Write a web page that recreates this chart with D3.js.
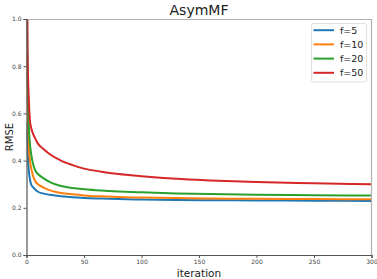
<!DOCTYPE html>
<html>
<head>
<meta charset="utf-8">
<script src="https://cdn.jsdelivr.net/npm/d3@7"></script>
<style>
  body { margin: 0; background: #fff; }
  text { font-family: "DejaVu Sans", sans-serif; }
</style>
</head>
<body>
<div id="chart"></div>
<script>
// iteration points and RMSE per latent size f
const iterations = [0, 1, 2, 3, 4, 6, 8, 10, 14, 20, 30, 40, 50, 65, 80, 100, 130, 160, 200, 250, 300];
const rmseF5  = [0.56, 0.44, 0.36, 0.32, 0.30, 0.285, 0.275, 0.268, 0.261, 0.255, 0.249, 0.2445, 0.2415, 0.239, 0.237, 0.235, 0.233, 0.232, 0.231, 0.230, 0.229];
const rmseF10 = [0.85, 0.60, 0.46, 0.40, 0.37, 0.33, 0.31, 0.30, 0.288, 0.275, 0.263, 0.257, 0.2525, 0.2485, 0.2458, 0.2435, 0.241, 0.2395, 0.238, 0.2368, 0.236];
const rmseF20 = [1.10, 0.75, 0.55, 0.47, 0.43, 0.38, 0.355, 0.343, 0.328, 0.31, 0.292, 0.284, 0.279, 0.2735, 0.2695, 0.2655, 0.261, 0.258, 0.2555, 0.2535, 0.252];
const rmseF50 = [1.60, 0.85, 0.66, 0.57, 0.54, 0.51, 0.49, 0.472, 0.452, 0.428, 0.40, 0.381, 0.366, 0.353, 0.343, 0.334, 0.323, 0.316, 0.309, 0.304, 0.300];
const seriesNames = ['f=5', 'f=10', 'f=20', 'f=50'];
const seriesColors = ['#1f77b4', '#ff7f0e', '#2ca02c', '#d62728'];
const xTicks = [0, 50, 100, 150, 200, 250, 300];
const yTicks = [0.0, 0.2, 0.4, 0.6, 0.8, 1.0];

const series = [rmseF5, rmseF10, rmseF20, rmseF50].map((vals, k) => ({
  name: seriesNames[k],
  color: seriesColors[k],
  points: iterations.map((it, i) => ({ x: it, y: vals[i] }))
}));

const W = 377, H = 279;
const margin = { top: 19, right: 5.5, bottom: 24, left: 26.5 };
const width = W - margin.left - margin.right;
const height = H - margin.top - margin.bottom;

const svg = d3.select('#chart').append('svg')
  .attr('width', W)
  .attr('height', H);

const g = svg.append('g')
  .attr('transform', `translate(${margin.left},${margin.top})`);

const x = d3.scaleLinear().domain([0, 300]).range([0, width]);
const y = d3.scaleLinear().domain([0, 1]).range([height, 0]);

// clip lines to the plot area
svg.append('defs').append('clipPath').attr('id', 'clip')
  .append('rect').attr('width', width).attr('height', height);

const line = d3.line()
  .x(d => x(d.x))
  .y(d => y(d.y))
  .curve(d3.curveMonotoneX);

g.append('g').attr('clip-path', 'url(#clip)')
  .selectAll('path')
  .data(series)
  .join('path')
  .attr('d', d => line(d.points))
  .attr('fill', 'none')
  .attr('stroke', d => d.color)
  .attr('stroke-width', 2);

// top / right spines (light)
g.append('line').attr('x1', 0).attr('x2', width).attr('y1', 0.5).attr('y2', 0.5)
  .attr('stroke', '#b0b0b0').attr('stroke-width', 1.2);
g.append('line').attr('x1', width).attr('x2', width).attr('y1', 0).attr('y2', height)
  .attr('stroke', '#b0b0b0').attr('stroke-width', 1.2);

// axes
const xAxis = g.append('g')
  .attr('transform', `translate(0,${height})`)
  .call(d3.axisBottom(x).tickValues(xTicks).tickSize(3).tickPadding(2).tickFormat(d3.format('d')));
const yAxis = g.append('g')
  .call(d3.axisLeft(y).tickValues(yTicks).tickSize(3).tickPadding(2).tickFormat(d3.format('.1f')));

[xAxis, yAxis].forEach(a => {
  a.select('.domain').attr('stroke', '#555').attr('stroke-width', 1.2);
  a.selectAll('.tick line').attr('stroke', '#555');
  a.selectAll('.tick text').attr('fill', '#444').style('font-size', '6px')
    .style('font-family', '"DejaVu Sans", sans-serif');
});

// title and axis labels
svg.append('text')
  .attr('x', margin.left + width / 2).attr('y', 14.5)
  .attr('text-anchor', 'middle')
  .style('font-size', '14px').attr('fill', '#222')
  .text('AsymMF');

svg.append('text')
  .attr('x', margin.left + width / 2).attr('y', 276.5)
  .attr('text-anchor', 'middle')
  .style('font-size', '10.5px').attr('fill', '#222')
  .text('iteration');

svg.append('text')
  .attr('transform', `translate(13,${margin.top + height / 2}) rotate(-90)`)
  .attr('text-anchor', 'middle')
  .style('font-size', '10px').attr('fill', '#222')
  .text('RMSE');

// legend
const legend = g.append('g').attr('transform', `translate(${width - 60},4.5)`);
legend.append('rect')
  .attr('width', 55).attr('height', 58.5)
  .attr('rx', 2).attr('fill', '#fff').attr('fill-opacity', 0.8)
  .attr('stroke', '#d8d8d8').attr('stroke-width', 0.8);
const rows = legend.selectAll('g.row').data(series).join('g')
  .attr('class', 'row')
  .attr('transform', (d, i) => `translate(0,${6.7 + i * 14.2})`);
rows.append('line')
  .attr('x1', 2).attr('x2', 22.5).attr('y1', 0).attr('y2', 0)
  .attr('stroke', d => d.color).attr('stroke-width', 2);
rows.append('text')
  .attr('x', 28.5).attr('y', 3.5)
  .style('font-size', '9.5px').attr('fill', '#222')
  .text(d => d.name);
</script>
</body>
</html>
